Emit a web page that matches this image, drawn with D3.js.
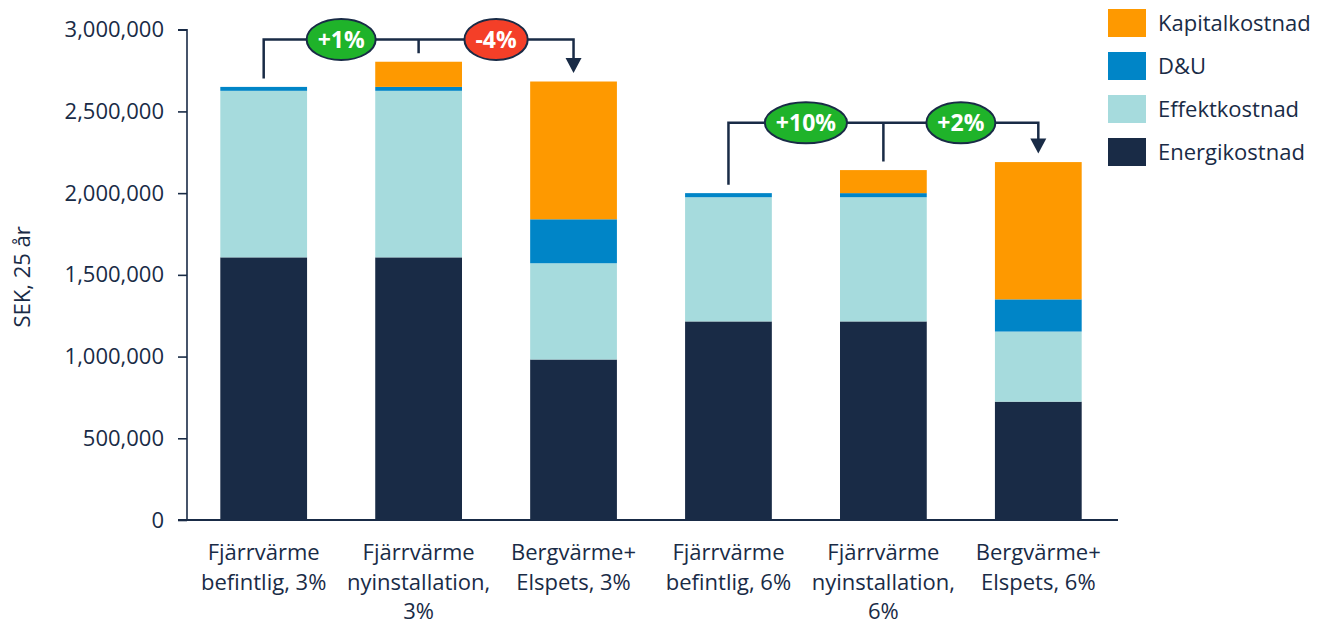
<!DOCTYPE html>
<html>
<head>
<meta charset="utf-8">
<script src="https://cdn.jsdelivr.net/npm/d3@7"></script>
<style>
  body { margin: 0; background: white; }
  text { font-family: "Open Sans", sans-serif; }
</style>
</head>
<body>
<div id="chart"></div>
<script>
// categories and stacked cost components (SEK over 25 years)
const categories = [
  "Fjärrvärme\nbefintlig, 3%",
  "Fjärrvärme\nnyinstallation,\n3%",
  "Bergvärme+\nElspets, 3%",
  "Fjärrvärme\nbefintlig, 6%",
  "Fjärrvärme\nnyinstallation,\n6%",
  "Bergvärme+\nElspets, 6%"
];
const energikostnad = [1607000, 1607000, 982000, 1215000, 1215000, 724000];
const effektkostnad = [1019000, 1019000, 589000, 760000, 760000, 429000];
const dou = [24000, 24000, 269000, 25000, 25000, 197000];
const kapitalkostnad = [0, 154000, 843000, 0, 141000, 840000];

const seriesNames = ["Energikostnad", "Effektkostnad", "D&U", "Kapitalkostnad"];
const seriesColors = ["#192b46", "#a6dbdd", "#0085c7", "#fe9900"];

const yTicks = [0, 500000, 1000000, 1500000, 2000000, 2500000, 3000000];

// change brackets: from/mid/to bar index, bracket level, labels
const changeGroups = [
  { from: 0, mid: 1, to: 2, level: 2940000, labels: ["+1%", "-4%"] },
  { from: 3, mid: 4, to: 5, level: 2430000, labels: ["+10%", "+2%"] }
];
const changeColors = { "+": "#1fb32a", "-": "#f43f28" };

const layout = {
  width: 1333,
  height: 626,
  left: 187,
  right: 1115,
  top: 29.7,
  bottom: 520,
  ink: "#192b46"
};

let svg = d3.select("#chart").append("svg")
  .attr("width", layout.width)
  .attr("height", layout.height);

let rows = categories.map((c, i) => ({
  cat: c,
  Energikostnad: energikostnad[i],
  Effektkostnad: effektkostnad[i],
  "D&U": dou[i],
  Kapitalkostnad: kapitalkostnad[i]
}));

let xScale = d3.scaleBand()
  .domain(categories)
  .range([layout.left, layout.right])
  .paddingInner(0.44)
  .paddingOuter(0.215);

let yScale = d3.scaleLinear()
  .domain([0, 3000000])
  .range([layout.bottom, layout.top]);

let stack = d3.stack().keys(seriesNames)(rows);

// bars
svg.append("g").selectAll("g")
  .data(stack)
  .join("g")
  .attr("fill", (d, i) => seriesColors[i])
  .selectAll("rect")
  .data(d => d)
  .join("rect")
  .attr("x", d => xScale(d.data.cat))
  .attr("y", d => yScale(d[1]))
  .attr("width", xScale.bandwidth())
  .attr("height", d => yScale(d[0]) - yScale(d[1]));

// y axis
let yAxis = svg.append("g")
  .attr("transform", `translate(${layout.left},0)`)
  .call(d3.axisLeft(yScale).tickValues(yTicks).tickFormat(d3.format(",")).tickSize(9).tickPadding(14));
yAxis.select(".domain").attr("stroke", layout.ink).attr("stroke-width", 1.6)
  .attr("d", `M-9,${layout.top}H0V${layout.bottom}`);
yAxis.selectAll("line").attr("stroke", layout.ink).attr("stroke-width", 1.6);
yAxis.selectAll("text").attr("fill", layout.ink).attr("font-size", 22)
  .attr("font-family", "'Open Sans', sans-serif");

// x axis baseline
svg.append("line")
  .attr("x1", layout.left - 9)
  .attr("x2", layout.right + 3)
  .attr("y1", yScale(0))
  .attr("y2", yScale(0))
  .attr("stroke", layout.ink)
  .attr("stroke-width", 1.8);

// category labels
let catLabels = svg.append("g").selectAll("text")
  .data(categories)
  .join("text")
  .attr("text-anchor", "middle")
  .attr("fill", layout.ink)
  .attr("font-size", 22);
catLabels.each(function(d) {
  let lines = d.split("\n");
  let t = d3.select(this);
  lines.forEach((ln, j) => {
    t.append("tspan")
      .attr("x", xScale(d) + xScale.bandwidth() / 2)
      .attr("y", 560 + j * 29.5)
      .text(ln);
  });
});

// y axis title
svg.append("text")
  .attr("transform", `translate(22,${(layout.top + layout.bottom) / 2 + 2}) rotate(-90)`)
  .attr("text-anchor", "middle")
  .attr("dy", "0.35em")
  .attr("fill", layout.ink)
  .attr("font-size", 22)
  .text("SEK, 25 år");

// legend (top entry is the top of the stack)
let legend = svg.append("g").attr("transform", "translate(1108,9)");
let legendItems = seriesNames.slice().reverse();
legendItems.forEach((name, i) => {
  let g = legend.append("g").attr("transform", `translate(0,${i * 43})`);
  g.append("rect")
    .attr("width", 38)
    .attr("height", 28)
    .attr("fill", seriesColors[seriesNames.indexOf(name)]);
  g.append("text")
    .attr("x", 50)
    .attr("y", 14)
    .attr("dy", "0.35em")
    .attr("fill", layout.ink)
    .attr("font-size", 22)
    .text(name);
});

// change brackets with percentage badges
let totals = rows.map(r => seriesNames.reduce((s, k) => s + r[k], 0));
let cx = i => xScale(categories[i]) + xScale.bandwidth() / 2;
const gap = 8.5;

changeGroups.forEach(grp => {
  let by = yScale(grp.level);
  let g = svg.append("g");
  g.append("path")
    .attr("fill", "none")
    .attr("stroke", layout.ink)
    .attr("stroke-width", 2.5)
    .attr("d", [
      `M${cx(grp.from)},${yScale(totals[grp.from]) - gap}`,
      `V${by}`,
      `H${cx(grp.to)}`,
      `V${yScale(totals[grp.to]) - gap - 14}`,
      `M${cx(grp.mid)},${by}`,
      `V${yScale(totals[grp.mid]) - gap}`
    ].join(""));

  // arrow head
  let tipY = yScale(totals[grp.to]) - gap;
  g.append("path")
    .attr("fill", layout.ink)
    .attr("d", `M${cx(grp.to) - 8},${tipY - 15}L${cx(grp.to) + 8},${tipY - 15}L${cx(grp.to)},${tipY}Z`);

  let pairs = [[grp.from, grp.mid], [grp.mid, grp.to]];
  pairs.forEach((p, k) => {
    let label = grp.labels[k];
    let mx = (cx(p[0]) + cx(p[1])) / 2;
    let badge = g.append("g");
    let ell = badge.append("ellipse")
      .attr("cx", mx)
      .attr("cy", by)
      .attr("ry", 20.5)
      .attr("fill", changeColors[label[0]])
      .attr("stroke", layout.ink)
      .attr("stroke-width", 2);
    let txt = badge.append("text")
      .attr("x", mx)
      .attr("y", by)
      .attr("dy", "0.36em")
      .attr("text-anchor", "middle")
      .attr("fill", "white")
      .attr("font-weight", "bold")
      .attr("font-size", 23)
      .text(label);
    let w = txt.node().getComputedTextLength();
    ell.attr("rx", w / 2 + 11);
  });
});
</script>
</body>
</html>
